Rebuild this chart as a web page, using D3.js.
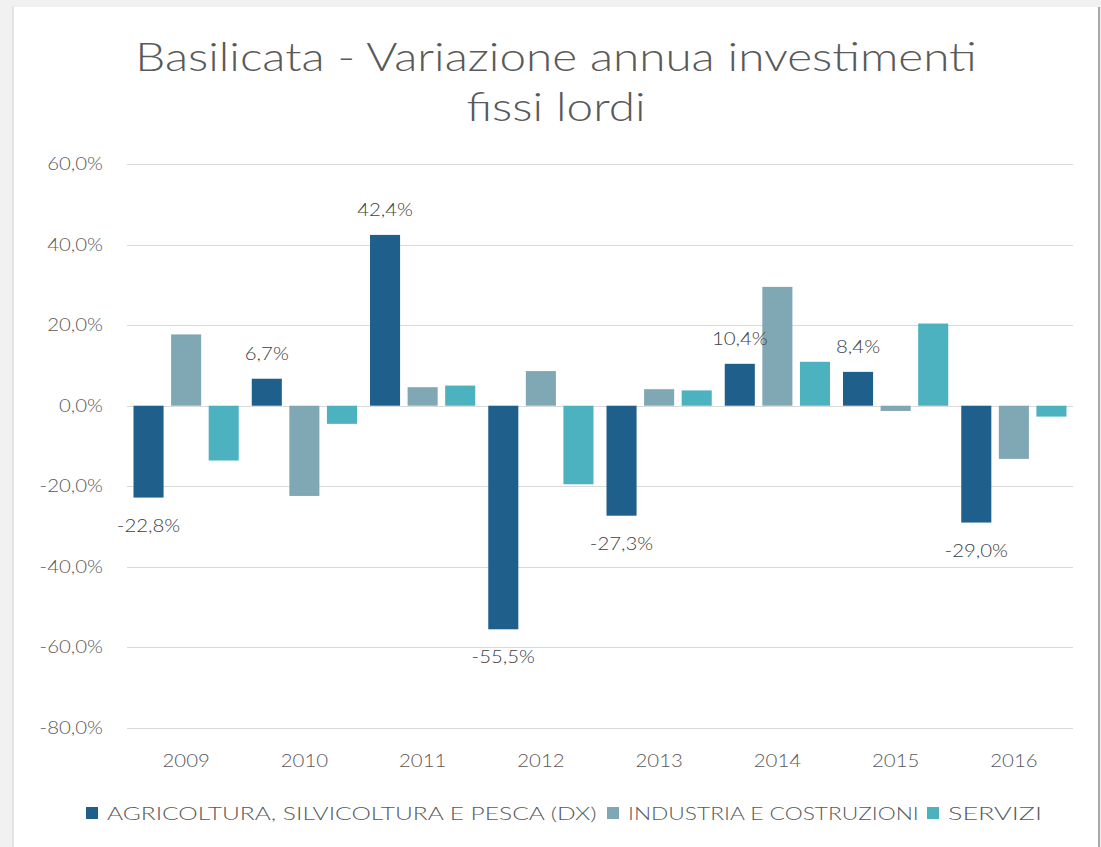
<!DOCTYPE html>
<meta charset="utf-8">
<script src="https://d3js.org/d3.v7.min.js"></script>
<style>
  body { margin: 0; background: #f1f1f1; }
  text { font-family: Lato, "Open Sans", sans-serif; }
</style>
<div id="chart"></div>
<script>

// data
var years = ["2009", "2010", "2011", "2012", "2013", "2014", "2015", "2016"];
var seriesNames = ["AGRICOLTURA, SILVICOLTURA E PESCA (DX)", "INDUSTRIA E COSTRUZIONI", "SERVIZI"];
var agricoltura = [-22.8, 6.7, 42.4, -55.5, -27.3, 10.4, 8.4, -29.0];
var industria = [17.7, -22.4, 4.6, 8.6, 4.1, 29.5, -1.3, -13.2];
var servizi = [-13.6, -4.5, 5.0, -19.5, 3.8, 10.9, 20.4, -2.7];
var yTicks = [-80, -60, -40, -20, 0, 20, 40, 60];
var colors = ["#1f5f8c", "#80a8b4", "#4cb2c0"];

var W = 1101, H = 847;
var margin = {top: 164, right: 28, bottom: 119, left: 127};
var SX = 1.2; // horizontal stretch, to get closer to the wide original typeface

var svg = d3.select("#chart").append("svg")
  .attr("width", W)
  .attr("height", H);

// frame
svg.append("rect").attr("x", 0).attr("y", 0).attr("width", W).attr("height", H).attr("fill", "#f1f1f1");
svg.append("rect").attr("x", 12).attr("y", 6).attr("width", 2).attr("height", H).attr("fill", "#e4e4e4");
svg.append("rect").attr("x", 14).attr("y", 7).attr("width", 1084).attr("height", H).attr("fill", "#ffffff");
svg.append("rect").attr("x", 1098).attr("y", 7).attr("width", 2).attr("height", H).attr("fill", "#a8a8a8");

var locale = d3.formatLocale({decimal: ",", thousands: ".", grouping: [3], currency: ["", "€"], minus: "-"});
var fmt = locale.format(".1f");

var x0 = d3.scaleBand()
  .domain(years)
  .range([margin.left, W - margin.right])
  .paddingInner(0.11)
  .paddingOuter(0.055);

var x1 = d3.scaleBand()
  .domain([0, 1, 2])
  .range([0, x0.bandwidth()])
  .paddingInner(0.2);

var y = d3.scaleLinear()
  .domain([-80, 60])
  .range([H - margin.bottom, margin.top]);

// gridlines
svg.append("g")
  .selectAll("line")
  .data(yTicks)
  .enter()
  .append("line")
    .attr("x1", margin.left)
    .attr("x2", W - margin.right)
    .attr("y1", function(d){ return Math.round(y(d)) + 0.5; })
    .attr("y2", function(d){ return Math.round(y(d)) + 0.5; })
    .attr("stroke", "#d9d9d9")
    .attr("stroke-width", 1);

// y axis labels
var yAxis = svg.append("g")
  .attr("transform", "translate(" + (margin.left - 24) + ",0)")
  .call(d3.axisLeft(y).tickValues(yTicks).tickSize(0).tickPadding(0)
    .tickFormat(function(d){ return fmt(d) + "%"; }));
yAxis.select(".domain").remove();
yAxis.selectAll("text")
  .attr("fill", "#595959")
  .attr("transform", "scale(" + SX + ",1)")
  .style("font-size", "17px")
  .style("font-weight", 300)
  .style("font-family", "Lato, sans-serif");

// x axis labels
var xAxis = svg.append("g")
  .attr("transform", "translate(0," + (H - margin.bottom + 27) + ")")
  .call(d3.axisBottom(x0).tickSize(0).tickPadding(0));
xAxis.select(".domain").remove();
xAxis.selectAll("text")
  .attr("fill", "#595959")
  .attr("transform", "scale(" + SX + ",1)")
  .style("font-size", "17px")
  .style("font-weight", 300)
  .style("font-family", "Lato, sans-serif");

// bars
var allSeries = [agricoltura, industria, servizi];
var rows = [];
years.forEach(function(yr, i) {
  allSeries.forEach(function(s, k) {
    rows.push({year: yr, k: k, v: s[i]});
  });
});

svg.append("g")
  .selectAll("rect")
  .data(rows)
  .enter()
  .append("rect")
    .attr("x", function(d){ return x0(d.year) + x1(d.k); })
    .attr("width", x1.bandwidth())
    .attr("y", function(d){ return y(Math.max(0, d.v)); })
    .attr("height", function(d){ return Math.abs(y(d.v) - y(0)); })
    .attr("fill", function(d){ return colors[d.k]; });

// data labels for agricoltura
svg.append("g")
  .selectAll("text")
  .data(agricoltura)
  .enter()
  .append("text")
    .attr("transform", function(d, i){
      var cx = x0(years[i]) + x1(0) + x1.bandwidth() / 2;
      var cy = d >= 0 ? y(d) - 19 : y(d) + 34;
      return "translate(" + cx + "," + cy + ") scale(" + SX + ",1)";
    })
    .attr("text-anchor", "middle")
    .attr("fill", "#404040")
    .style("font-size", "17px")
    .style("font-weight", 300)
    .text(function(d){ return fmt(d) + "%"; });

// title
var titleLines = ["Basilicata - Variazione annua investimenti", "fissi lordi"];
var titleY = [71, 121];
var title = svg.append("g");
var tl = title.selectAll("text")
  .data(titleLines)
  .enter()
  .append("text")
    .attr("text-anchor", "middle")
    .attr("fill", "#595959")
    .style("font-size", "40px")
    .style("font-weight", 300)
    .text(function(d){ return d; });
var w0 = tl.node().getComputedTextLength();
var tsx = 842 / w0;
tl.attr("transform", function(d, i){ return "translate(556," + titleY[i] + ") scale(" + tsx + ",1)"; });

// legend
var legendX = [86, 607, 927];
var legendW = [490, 291, 94];
var legend = svg.append("g")
  .selectAll("g")
  .data(seriesNames)
  .enter()
  .append("g");
legend.append("rect")
  .attr("x", function(d, i){ return legendX[i]; })
  .attr("y", 807)
  .attr("width", 12)
  .attr("height", 12)
  .attr("fill", function(d, i){ return colors[i]; });
legend.append("text")
  .attr("fill", "#595959")
  .style("font-size", "17px")
  .style("font-weight", 300)
  .text(function(d){ return d; })
  .attr("transform", function(d, i){
    var s = legendW[i] / this.getComputedTextLength();
    return "translate(" + (legendX[i] + 21) + ",820) scale(" + s + ",1)";
  });

</script>
